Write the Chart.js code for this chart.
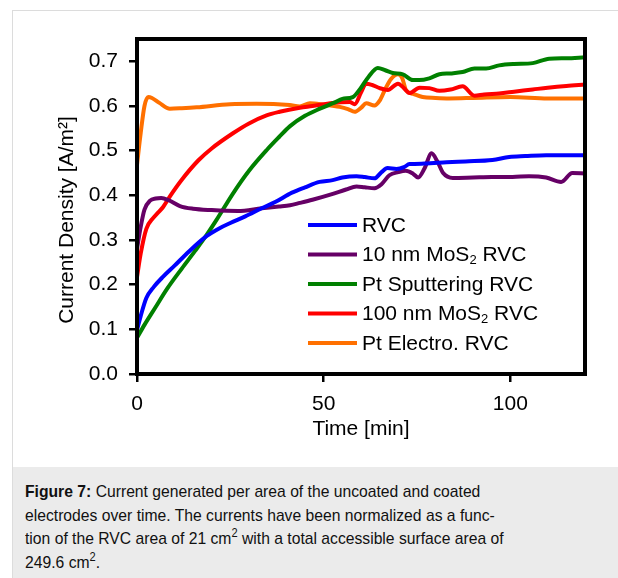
<!DOCTYPE html>
<html>
<head>
<meta charset="utf-8">
<script src="https://cdn.jsdelivr.net/npm/chart.js@4/dist/chart.umd.min.js"></script>
<style>
  html, body { margin: 0; padding: 0; background: #fff; }
  body { width: 618px; height: 578px; position: relative; overflow: hidden; font-family: "Liberation Sans", Arial, sans-serif; }
  #frame { position: absolute; left: 12px; top: 10px; right: 0; bottom: 0; border-left: 1px solid #dcdcdc; border-top: 1px solid #dcdcdc; }
  #plot { position: absolute; left: 0; top: 0; }
  #caption {
    position: absolute; left: 13px; top: 467px; width: 605px; height: 111px;
    background: #ebebeb; box-sizing: border-box; padding: 13px 0 0 12px;
  }
  #caption p {
    margin: 0; width: 650px; transform: scaleX(0.923); transform-origin: 0 0;
    font-family: "Liberation Sans", Arial, sans-serif;
    font-size: 17px; line-height: 23.7px; color: #111;
  }
  #caption sup { font-size: 12px; line-height: 0; vertical-align: 7px; }
</style>
</head>
<body>
<div id="frame"></div>
<canvas id="plot" width="618" height="467"></canvas>
<div id="caption"><p><b>Figure 7:</b> Current generated per area of the uncoated and coated<br>electrodes over time. The currents have been normalized as a func-<br>tion of the RVC area of 21 cm<sup>2</sup> with a total accessible surface area of<br>249.6 cm<sup>2</sup>.</p></div>
<script>
// Current density [A/m2] vs time [min] for each electrode
const seriesLabels = ["RVC", "10 nm MoS\u2082 RVC", "Pt Sputtering RVC", "100 nm MoS\u2082 RVC", "Pt Electro. RVC"];
const seriesColors = ["#0000ff", "#660066", "#008000", "#ff0000", "#ff7000"];

const rvcTime = [0, 1, 2.5, 4.5, 7, 10, 14, 18.7, 22, 25, 29, 33.4, 37, 41.5, 45, 48.9, 52.4, 55, 58.8, 61, 63.6, 65.5, 67.1, 69.5, 71.5, 73, 77, 82.9, 88, 95.2, 99.7, 104, 109.6, 115, 120];
const rvcValues = [0.098, 0.13, 0.17, 0.195, 0.218, 0.242, 0.275, 0.309, 0.326, 0.338, 0.353, 0.371, 0.385, 0.406, 0.418, 0.43, 0.434, 0.44, 0.443, 0.441, 0.438, 0.452, 0.461, 0.459, 0.463, 0.47, 0.471, 0.474, 0.476, 0.479, 0.486, 0.488, 0.49, 0.49, 0.49];

const mos10Time = [0, 1, 2, 3.5, 5, 6.5, 8.5, 11.5, 15, 20, 27, 33.4, 38, 41, 43.6, 47, 52, 56, 58.8, 61, 63.6, 65.5, 67.6, 70, 72, 74, 75.3, 77, 78.9, 80.5, 82, 84.6, 90, 95, 100.6, 105, 109.6, 113.6, 116.6, 120];
const mos10Values = [0.28, 0.33, 0.368, 0.388, 0.393, 0.394, 0.389, 0.376, 0.37, 0.367, 0.365, 0.371, 0.375, 0.378, 0.383, 0.39, 0.402, 0.413, 0.42, 0.418, 0.416, 0.425, 0.445, 0.452, 0.455, 0.448, 0.44, 0.46, 0.494, 0.475, 0.45, 0.439, 0.44, 0.441, 0.441, 0.443, 0.44, 0.43, 0.45, 0.449];

const ptSputterTime = [0, 2, 5, 8, 12, 15.5, 18.7, 21.3, 25.7, 30, 34.7, 38, 41, 45, 49, 53, 55, 57.8, 60, 62, 64.5, 66.5, 68.5, 71.2, 73.9, 75.6, 78.3, 81, 84, 87.2, 90.4, 93.5, 97, 101, 106, 110.4, 115, 120];
const ptSputterValues = [0.081, 0.11, 0.15, 0.19, 0.236, 0.275, 0.312, 0.345, 0.404, 0.455, 0.501, 0.53, 0.555, 0.578, 0.594, 0.608, 0.616, 0.62, 0.641, 0.665, 0.685, 0.68, 0.674, 0.671, 0.658, 0.658, 0.662, 0.671, 0.673, 0.676, 0.684, 0.684, 0.691, 0.694, 0.696, 0.706, 0.707, 0.709];

const mos100Time = [0, 1, 2.5, 4.3, 5.5, 7, 9, 12, 16.4, 20, 25.7, 30, 34.7, 38.2, 43.6, 47, 52.4, 57, 58.3, 60, 61.4, 63, 65, 67.2, 69.9, 71.5, 73, 75.7, 78.3, 81, 84, 87.2, 90.4, 93, 97, 101, 106, 110, 115, 120];
const mos100Values = [0.217, 0.27, 0.325, 0.349, 0.36, 0.374, 0.4, 0.435, 0.478, 0.505, 0.539, 0.561, 0.579, 0.587, 0.596, 0.6, 0.607, 0.609, 0.604, 0.63, 0.65, 0.647, 0.64, 0.636, 0.65, 0.64, 0.629, 0.641, 0.64, 0.634, 0.637, 0.644, 0.623, 0.626, 0.628, 0.632, 0.637, 0.641, 0.645, 0.648];

const ptElectroTime = [0, 1, 2, 3, 4, 6, 8.8, 12, 16, 24.9, 32, 40.9, 43.6, 46.3, 50, 54.3, 56.5, 58.3, 60, 61.4, 63.6, 65, 66.5, 68, 69.9, 71, 72.1, 74, 76.5, 80, 83.6, 90, 100, 110, 120];
const ptElectroValues = [0.468, 0.54, 0.6, 0.62, 0.618, 0.607, 0.594, 0.595, 0.597, 0.604, 0.605, 0.602, 0.599, 0.606, 0.603, 0.598, 0.593, 0.587, 0.596, 0.606, 0.601, 0.612, 0.638, 0.66, 0.671, 0.663, 0.635, 0.627, 0.62, 0.618, 0.617, 0.618, 0.62, 0.617, 0.617];

const xTickValues = [0, 50, 100];
const yTickValues = [0, 0.1, 0.2, 0.3, 0.4, 0.5, 0.6, 0.7];

const FONT = "'Liberation Sans', Arial, sans-serif";

function toPoints(times, values) {
  return times.map((t, i) => ({ x: t, y: values[i] }));
}

const seriesData = [
  toPoints(rvcTime, rvcValues),
  toPoints(mos10Time, mos10Values),
  toPoints(ptSputterTime, ptSputterValues),
  toPoints(mos100Time, mos100Values),
  toPoints(ptElectroTime, ptElectroValues),
];

// Draws text where "\u2082" becomes a small lowered 2
function drawSubscriptText(ctx, text, x, y, size) {
  const parts = text.split("\u2082");
  let cx = x;
  parts.forEach((part, i) => {
    ctx.font = size + "px " + FONT;
    ctx.fillText(part, cx, y);
    cx += ctx.measureText(part).width;
    if (i < parts.length - 1) {
      ctx.font = Math.round(size * 0.62) + "px " + FONT;
      ctx.fillText("2", cx, y + 5);
      cx += ctx.measureText("2").width;
    }
  });
}

// Frame box, legend inside the plot and the rotated y title
const framePlugin = {
  id: "frame",
  afterDatasetsDraw(chart) {
    const { ctx, chartArea: a } = chart;
    ctx.save();
    ctx.strokeStyle = "#000";
    ctx.lineWidth = 4;
    ctx.strokeRect(a.left, a.top, a.right - a.left, a.bottom - a.top);
    ctx.restore();
  },
  afterDraw(chart) {
    const { ctx } = chart;
    ctx.save();
    ctx.fillStyle = "#000";
    ctx.textBaseline = "middle";
    chart.data.datasets.forEach((ds, i) => {
      const y = 225 + i * 29.5;
      ctx.strokeStyle = ds.borderColor;
      ctx.lineWidth = 4;
      ctx.beginPath();
      ctx.moveTo(308, y);
      ctx.lineTo(357, y);
      ctx.stroke();
      drawSubscriptText(ctx, ds.label, 362, y + 1, 21);
    });

    ctx.translate(67, 220);
    ctx.rotate(-Math.PI / 2);
    ctx.textAlign = "center";
    ctx.font = "21px " + FONT;
    ctx.fillText("Current Density [A/m\u00b2]", 0, 0);
    ctx.restore();
  },
};

new Chart(document.getElementById("plot"), {
  type: "line",
  data: {
    datasets: seriesData.map((pts, i) => ({
      label: seriesLabels[i],
      data: pts,
      borderColor: seriesColors[i],
      backgroundColor: seriesColors[i],
      borderWidth: 4,
      pointRadius: 0,
      cubicInterpolationMode: "monotone",
      fill: false,
    })),
  },
  options: {
    responsive: false,
    animation: false,
    layout: { padding: { left: 0, right: 33, top: 39, bottom: 0 } },
    scales: {
      x: {
        type: "linear",
        min: 0,
        max: 120,
        afterFit(scale) { scale.height = 93; },
        afterBuildTicks(scale) { scale.ticks = xTickValues.map((v) => ({ value: v })); },
        border: { display: false },
        grid: { drawOnChartArea: false, drawTicks: true, tickLength: 8, color: "#000", lineWidth: 2.5 },
        ticks: { color: "#000", font: { family: FONT, size: 21 }, padding: 10, maxRotation: 0 },
        title: { display: true, text: "Time [min]", color: "#000", font: { family: FONT, size: 21 }, padding: { top: 0, bottom: 25 } },
      },
      y: {
        type: "linear",
        min: 0,
        max: 0.75,
        afterFit(scale) { scale.width = 137; },
        afterBuildTicks(scale) { scale.ticks = yTickValues.map((v) => ({ value: v })); },
        border: { display: false },
        grid: { drawOnChartArea: false, drawTicks: true, tickLength: 8, color: "#000", lineWidth: 2.5 },
        ticks: { color: "#000", font: { family: FONT, size: 21 }, padding: 11, callback: (v) => v.toFixed(1) },
      },
    },
    plugins: {
      legend: { display: false },
      tooltip: { enabled: false },
    },
  },
  plugins: [framePlugin],
});
</script>
</body>
</html>
